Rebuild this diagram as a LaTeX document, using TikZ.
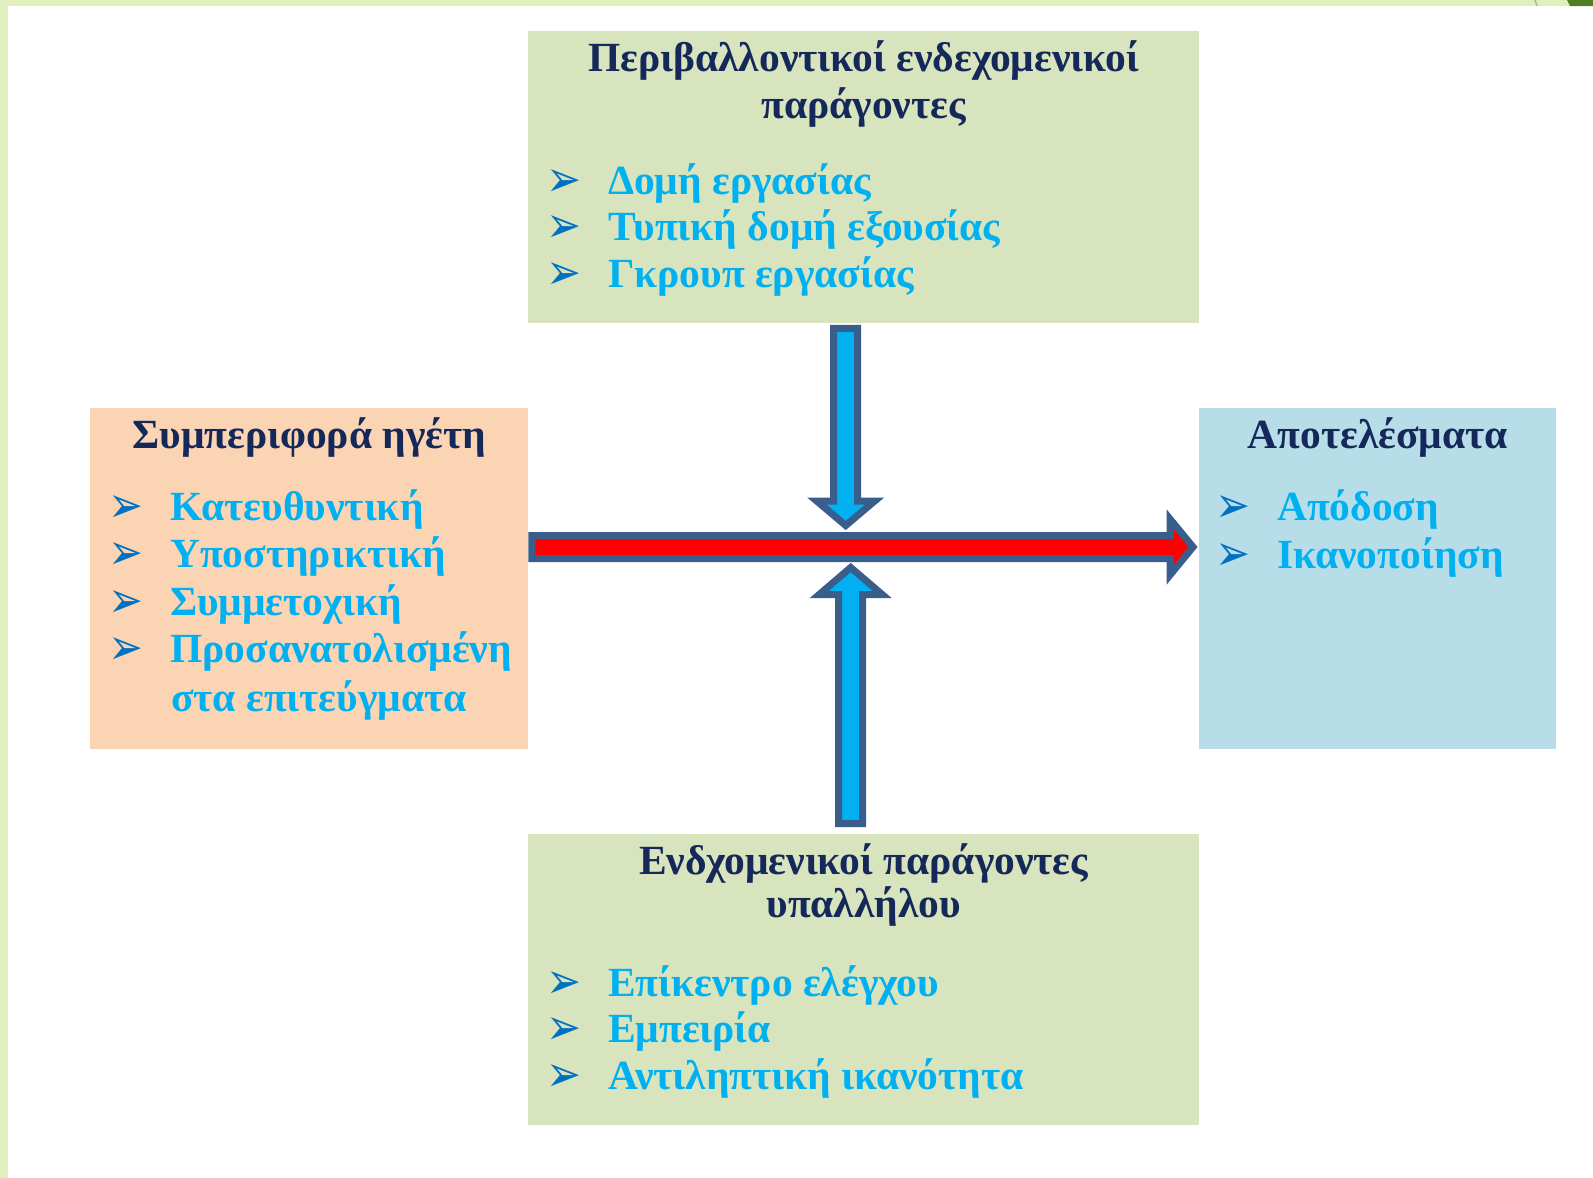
\documentclass[tikz,border=0pt]{standalone}
\usepackage{fontspec}
\setmainfont{Liberation Serif}
\newfontfamily\symbfont{DejaVu Sans}
\usepackage{xcolor}
\usepackage{graphicx}
\usepackage{tikz}
\usetikzlibrary{calc,positioning}
\definecolor{envfill}{HTML}{D7E4BD}
\definecolor{leadfill}{HTML}{FBD4B4}
\definecolor{outfill}{HTML}{B7DEE8}
\definecolor{headline}{HTML}{14285A}
\definecolor{itemline}{HTML}{00B0F0}
\definecolor{bulletline}{HTML}{0070C0}
\definecolor{arrowline}{HTML}{3A5E8C}
\definecolor{arrowfill}{HTML}{00B0F0}
\definecolor{chromefill}{HTML}{E0F0BC}
\definecolor{chromedark}{HTML}{4F7F1F}

\newcommand\blockarrow[6][]{%
\coordinate (ba-h) at ($(#3)!#6!(#2)$);
\draw[#1] ($(#2)!#4!90:(#3)$) -- ($(ba-h)!#4!90:(#3)$) -- ($(ba-h)!#5!90:(#3)$) -- (#3)
 -- ($(ba-h)!#5!-90:(#3)$) -- ($(ba-h)!#4!-90:(#3)$) -- ($(#2)!#4!-90:(#3)$) -- cycle;}
\newcommand\bul{\makebox[62pt][l]{\smash{\raisebox{-2pt}{\scalebox{0.95}[1.15]{\textcolor{bulletline}{\fontsize{44}{44}\symbfont\bfseries ➢}}}}}}

\begin{document}
\begin{tikzpicture}[x=1pt,y=-1pt]
\tikzset{
panel/.style={rectangle, inner sep=0pt, anchor=north west},
headtext/.style={inner sep=0pt, anchor=base, text=headline, font=\fontsize{41.5}{41.5}\selectfont\bfseries},
itemtext/.style={inner sep=0pt, anchor=base west, text=itemline, font=\fontsize{41.5}{41.5}\selectfont\bfseries},
bigarrow/.style={draw=arrowline, line width=7pt, line join=miter}
}
\useasboundingbox (0,0) rectangle (1593,1178);
\fill[chromefill] (0,0) rectangle (1593,6);
\fill[chromefill] (0,0) rectangle (8,1178);
\draw[gray!60, line width=1.5pt] (1535,0) -- (1537,6);
\fill[chromedark] (1567,0) -- (1593,0) -- (1593,6) -- (1570,6) -- cycle;

\node[panel, fill=envfill, minimum width=671pt, minimum height=292pt] (env) at (528,31) {};
\node[panel, fill=leadfill, minimum width=438pt, minimum height=341pt] (lead) at (90,408) {};
\node[panel, fill=outfill, minimum width=357pt, minimum height=341pt] (res) at (1199,408) {};
\node[panel, fill=envfill, minimum width=671pt, minimum height=291pt] (emp) at (528,834) {};

\node[headtext] (env-t1) at ($(env.north)+(0,40)$) {Περιβαλλοντικοί ενδεχομενικοί};
\node[headtext] (env-t2) at ($(env.north)+(0,87)$) {παράγοντες};
\foreach \txt [count=\i from 0] in {Δομή εργασίας, Τυπική δομή εξουσίας, Γκρουπ εργασίας}
  \node[itemtext] (env-\i) at ($(env.north west)+(18,{163+46.5*\i})$) {\bul\txt};

\node[headtext] (lead-t) at ($(lead.north)+(0,40)$) {Συμπεριφορά ηγέτη};
\foreach \txt [count=\i from 0] in {Κατευθυντική, Υποστηρικτική, Συμμετοχική, Προσανατολισμένη}
  \node[itemtext] (lead-\i) at ($(lead.north west)+(18,{112+47.5*\i})$) {\bul\txt};
\node[itemtext] (lead-4) at ($(lead.north west)+(81,303)$) {στα επιτεύγματα};

\node[headtext] (res-t) at ($(res.north)+(0,40)$) {Αποτελέσματα};
\foreach \txt [count=\i from 0] in {Απόδοση, Ικανοποίηση}
  \node[itemtext] (res-\i) at ($(res.north west)+(16,{112+48.5*\i})$) {\bul\txt};

\node[headtext] (emp-t1) at ($(emp.north)+(0,40)$) {Ενδχομενικοί παράγοντες};
\node[headtext] (emp-t2) at ($(emp.north)+(0,83)$) {υπαλλήλου};
\foreach \txt [count=\i from 0] in {Επίκεντρο ελέγχου, Εμπειρία, Αντιληπτική ικανότητα}
  \node[itemtext] (emp-\i) at ($(emp.north west)+(18,{162+46.5*\i})$) {\bul\txt};

\coordinate (hub) at (848,547);
\coordinate (h-tail) at ($(lead.east |- hub)+(3.5,0)$);
\coordinate (h-tip) at ($(res.west |- hub)+(-6,0)$);
\coordinate (d-tail) at ($(env.south)+(-18,5)$);
\coordinate (d-tip) at ($(d-tail |- hub)+(0,-21.5)$);
\coordinate (u-tail) at ($(emp.north)+(-13,-10.5)$);
\coordinate (u-tip) at ($(u-tail |- hub)+(0,20.5)$);
\blockarrow[bigarrow, fill=red]{h-tail}{h-tip}{11.5pt}{28pt}{23pt}
\blockarrow[bigarrow, fill=arrowfill]{d-tail}{d-tip}{12pt}{29pt}{24.5pt}
\blockarrow[bigarrow, fill=arrowfill]{u-tail}{u-tip}{12pt}{31.5pt}{27pt}
\end{tikzpicture}
\end{document}
